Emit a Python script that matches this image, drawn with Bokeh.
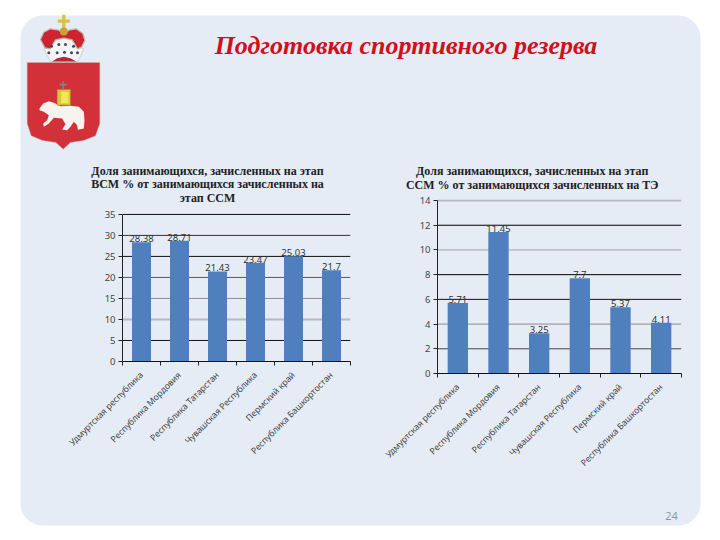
from math import pi
from bokeh.core.properties import value
from bokeh.embed import file_html
from bokeh.layouts import column
from bokeh.models import BoxAnnotation, FixedTicker, LinearAxis, Range1d
from bokeh.plotting import figure
from bokeh.resources import INLINE

categories = ["Удмуртская республика", "Республика Мордовия", "Республика Татарстан",
              "Чувашская Республика", "Пермский край", "Республика Башкортостан"]
vsm_values = [28.38, 28.71, 21.43, 23.47, 25.03, 21.7]
ssm_values = [5.71, 11.45, 3.25, 7.7, 5.37, 4.11]
vsm_ticks = [0, 5, 10, 15, 20, 25, 30, 35]
ssm_ticks = [0, 2, 4, 6, 8, 10, 12, 14]
vsm_grid = [(5, "#111111", 1), (10, "#b4b8bf", 2), (15, "#8a8d92", 1), (20, "#55585c", 1),
            (25, "#111111", 1), (30, "#333333", 1), (35, "#000000", 1)]
ssm_grid = [(2, "#444444", 1), (4, "#8a8d92", 1), (6, "#111111", 1), (8, "#000000", 1),
            (10, "#a0a4aa", 1), (12, "#000000", 1), (14, "#b4b8bf", 2)]
vsm_title = ["Доля занимающихся, зачисленных на этап",
             "ВСМ % от занимающихся зачисленных на", "этап ССМ"]
ssm_title = ["Доля занимающихся, зачисленных на этап",
             "ССМ % от занимающихся зачисленных на ТЭ"]
slide_title = "Подготовка спортивного резерва"
page_number = "24"

RED = "#d2313a"
GOLD = "#d9c04a"


def chart(values, ticks, grid, left, top, fw, fh):
    top_val = ticks[-1] * 1.006
    p = figure(width=fw + 80, height=fh + 125, output_backend="svg", toolbar_location=None,
               x_range=Range1d(0, 6), y_range=Range1d(0, top_val),
               min_border_left=70, min_border_right=10, min_border_top=10, min_border_bottom=115,
               background_fill_color=None, border_fill_color=None, outline_line_color=None,
               x_axis_type=None, y_axis_type=None, frame_align=False)
    p.styles = {"position": "absolute", "left": f"{left}px", "top": f"{top}px"}
    p.xgrid.visible = False
    p.ygrid.visible = False

    ya = LinearAxis(ticker=FixedTicker(ticks=ticks), bounds=(ticks[0], ticks[-1]))
    ya.axis_line_color = "#222222"
    ya.major_tick_line_color = "#222222"
    ya.major_tick_out = 4
    ya.major_tick_in = 0
    ya.minor_tick_out = 0
    ya.minor_tick_in = 0
    ya.major_label_text_font = "Noto Sans"
    ya.major_label_text_font_size = "9.5px"
    ya.major_label_text_color = "#444444"
    ya.major_label_standoff = 3
    p.add_layout(ya, "left")

    centers = [i + 0.5 for i in range(len(categories))]
    xa = LinearAxis(ticker=FixedTicker(ticks=centers, minor_ticks=list(range(len(categories) + 1))))
    xa.major_label_overrides = dict(zip(centers, categories))
    xa.major_label_orientation = pi / 4
    xa.major_label_text_font = "Noto Sans"
    xa.major_label_text_font_size = "8.7px"
    xa.major_label_text_color = "#444444"
    xa.major_label_standoff = 8
    xa.major_tick_out = 0
    xa.major_tick_in = 0
    xa.minor_tick_out = 4
    xa.minor_tick_in = 0
    xa.minor_tick_line_color = "#222222"
    xa.axis_line_color = "#111111"
    p.add_layout(xa, "below")

    p.segment(x0=[0] * len(grid), x1=[6] * len(grid),
              y0=[g[0] for g in grid], y1=[g[0] for g in grid],
              line_color=[g[1] for g in grid], line_width=[g[2] for g in grid])
    p.vbar(x=centers, top=values, width=0.5, bottom=0, fill_color="#4f7fbc", line_color=None)
    p.text(x=centers, y=values, text=[str(v) for v in values], text_align="center",
           text_baseline="bottom", y_offset=0, text_font=value("Noto Sans"),
           text_font_size="9.5px", text_color="#333333")
    return p


bg = figure(width=704, height=524, output_backend="svg", toolbar_location=None,
            x_range=Range1d(8, 712), y_range=Range1d(532, 8),
            min_border_left=0, min_border_right=0, min_border_top=0, min_border_bottom=0,
            outline_line_color=None, x_axis_type=None, y_axis_type=None,
            background_fill_color="white", border_fill_color="white", frame_align=False)
bg.styles = {"position": "absolute", "left": "8px", "top": "8px"}
bg.xgrid.visible = False
bg.ygrid.visible = False
bg.add_layout(BoxAnnotation(left=20, right=700, top=15, bottom=525, fill_color="#e5ecf6",
                            fill_alpha=1, line_color=None, border_radius=22, level="underlay"))


def z6(pts):
    return [x / 3 + 15 for x, _ in pts], [y / 3 + 5 for _, y in pts]


def z7(pts):
    return [x / 3 + 20 for x, _ in pts], [y / 3 + 58 for _, y in pts]


# crest: shield
xs, ys = z7([(20, 12), (238, 12), (238, 195), (225, 232), (190, 246), (150, 252), (128, 272),
             (106, 252), (66, 246), (32, 232), (20, 195)])
bg.patch(xs, ys, fill_color=RED, line_color="#b9b9b9", line_width=0.5)
# bear
xs, ys = z7([(57, 150), (68, 135), (85, 128), (100, 133), (120, 143), (150, 142), (175, 145),
             (190, 160), (192, 185), (190, 210), (172, 214), (170, 200), (160, 190), (150, 205),
             (140, 215), (125, 213), (135, 197), (125, 180), (100, 178), (85, 195), (70, 205),
             (68, 195), (80, 185), (85, 170), (70, 160), (57, 155)])
bg.patch(xs, ys, fill_color="#f7f3ee", line_color=None)
# book on the bear
xs, ys = z7([(110, 93), (150, 93), (150, 140), (110, 140)])
bg.patch(xs, ys, fill_color="#dcc63c", line_color="#9a8a30", line_width=0.5)
xs, ys = z7([(122, 100), (144, 100), (144, 134), (122, 134)])
bg.patch(xs, ys, fill_color="#f2e65c", line_color=None)
xs, ys = z7([(125, 68), (131, 68), (131, 93), (125, 93)])
bg.patch(xs, ys, fill_color="#8a7a76", line_color=None)
xs, ys = z7([(117, 76), (140, 76), (140, 82), (117, 82)])
bg.patch(xs, ys, fill_color="#8a7a76", line_color=None)
# crown
xs, ys = z6([(85, 130), (105, 125), (120, 100), (145, 96), (170, 100), (185, 125), (205, 130),
             (187, 168), (105, 168)])
bg.patch(xs, ys, fill_color="#f4f4f6", line_color="#b5b5b5", line_width=0.5)
xs, ys = z6([(75, 102), (85, 80), (105, 70), (130, 74), (145, 86), (160, 74), (182, 70), (202, 84),
             (208, 105), (198, 125), (186, 130), (170, 103), (145, 98), (120, 103), (104, 130),
             (88, 127)])
bg.patch(xs, ys, fill_color="#cf2430", line_color="#bdb7a8", line_width=1.2)
xs, ys = z6([(110, 168), (125, 158), (145, 154), (165, 158), (182, 168)])
bg.patch(xs, ys, fill_color="#b02a30", line_color=None)
for pts in ([(140, 28), (150, 28), (150, 70), (140, 70)], [(127, 42), (163, 42), (163, 52), (127, 52)]):
    xs, ys = z6(pts)
    bg.patch(xs, ys, fill_color=GOLD, line_color=None)
xs, ys = z6([(145, 78)])
bg.scatter(xs, ys, size=8, fill_color="#c8a23a", line_color=None)
xs, ys = z6([(108, 122), (130, 117), (150, 117), (174, 122), (100, 142), (125, 142), (147, 140),
             (168, 142), (186, 142)])
bg.scatter(xs, ys, size=3, fill_color="#3d4a66", line_color=None)

bg.text(x=[405.5], y=[45], text=[slide_title], text_align="center", text_baseline="middle",
        text_font=value("Liberation Serif"), text_font_style="bold italic",
        text_font_size="26px", text_color="#d0101a")
for line, yy in zip(vsm_title, [170, 183, 197]):
    bg.text(x=[207], y=[yy], text=[line], text_align="center", text_baseline="middle",
            text_font=value("Liberation Serif"), text_font_style="bold",
            text_font_size="12px", text_color="#222222")
for line, yy in zip(ssm_title, [170, 184]):
    bg.text(x=[531.7], y=[yy], text=[line], text_align="center", text_baseline="middle",
            text_font=value("Liberation Serif"), text_font_style="bold",
            text_font_size="12px", text_color="#222222")
bg.text(x=[671], y=[515], text=[page_number], text_align="center", text_baseline="middle",
        text_font=value("Noto Sans"), text_font_size="11px", text_color="#8f99a6")

left_chart = chart(vsm_values, vsm_ticks, vsm_grid, 52, 203, 228, 148)
right_chart = chart(ssm_values, ssm_ticks, ssm_grid, 367, 189, 244, 174)

page = column(bg, left_chart, right_chart, width=704, height=524)
page.styles = {"position": "relative"}
open("out.html", "w").write(file_html(page, INLINE))
